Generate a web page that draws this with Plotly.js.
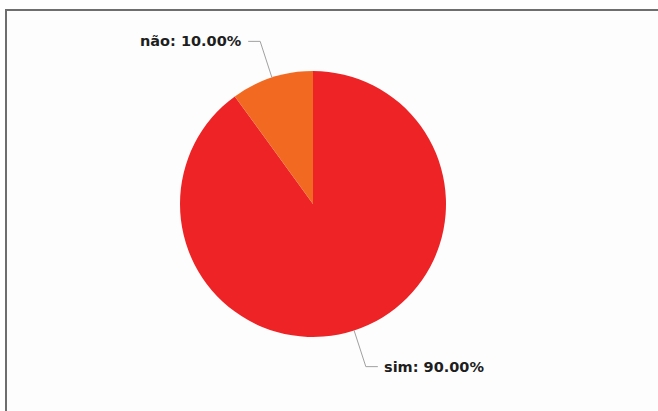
<!DOCTYPE html>
<html>
<head>
<meta charset="utf-8">
<script src="https://cdn.plot.ly/plotly-3.0.1.min.js"></script>
<style>
  html, body { margin: 0; padding: 0; background: #ffffff; overflow: hidden; }
  #wrap { position: relative; width: 658px; height: 411px; overflow: hidden; }
  #frame { position: absolute; left: 5px; top: 9px; width: 700px; height: 450px;
           border-left: 2px solid #6e6e6e; border-top: 2px solid #6e6e6e; background: #fdfdfd; }
  #chart { position: absolute; left: 0; top: 0; width: 658px; height: 411px; }
</style>
</head>
<body>
<div id="wrap">
  <div id="frame"></div>
  <div id="chart"></div>
</div>
<script>
// Data
const categories = ["sim", "não"];
const values = [90, 10];
const colors = ["#EE2326", "#F26A22"];

const W = 658, H = 411;
const margin = {l: 180, r: 212, t: 71, b: 74};
const side = W - margin.l - margin.r; // square plot area in px

const total = values.reduce((a, b) => a + b, 0);
const pct = values.map(v => v / total * 100);

// leader line geometry (px offsets converted to paper units)
const radialExt = 38 / side;
const horiz = 12 / side;
const gap = 4 / side;
const r = 0.5;

const shapes = [];
const annotations = [];
let cum = 0;
values.forEach((v, i) => {
  const frac = v / total;
  // slices run clockwise from 12 o'clock
  const mid = (cum + frac / 2) * 2 * Math.PI;
  cum += frac;
  const sx = Math.sin(mid), sy = Math.cos(mid);
  const x0 = 0.5 + r * sx, y0 = 0.5 + r * sy;
  const x1 = 0.5 + (r + radialExt) * sx, y1 = 0.5 + (r + radialExt) * sy;
  const dir = sx >= 0 ? 1 : -1;
  const x2 = x1 + dir * horiz;
  shapes.push({
    type: "path", xref: "paper", yref: "paper",
    path: `M ${x0} ${y0} L ${x1} ${y1} L ${x2} ${y1}`,
    line: {color: "#a0a0a0", width: 1}
  });
  annotations.push({
    xref: "paper", yref: "paper",
    x: x2 + dir * gap, y: y1,
    xanchor: dir > 0 ? "left" : "right", yanchor: "middle",
    text: `<b>${categories[i]}: ${pct[i].toFixed(2)}%</b>`,
    showarrow: false,
    font: {family: "DejaVu Sans", size: 14.5, color: "#1e1e1e"}
  });
});

const trace = {
  type: "pie",
  labels: categories,
  values: values,
  sort: false,
  direction: "clockwise",
  rotation: 0,
  marker: {colors: colors, line: {width: 0}},
  textinfo: "none",
  hoverinfo: "label+percent",
  showlegend: false
};

const layout = {
  width: W, height: H,
  margin: margin,
  paper_bgcolor: "rgba(0,0,0,0)",
  plot_bgcolor: "rgba(0,0,0,0)",
  showlegend: false,
  shapes: shapes,
  annotations: annotations
};

Plotly.newPlot("chart", [trace], layout, {displayModeBar: false, staticPlot: true});
</script>
</body>
</html>
